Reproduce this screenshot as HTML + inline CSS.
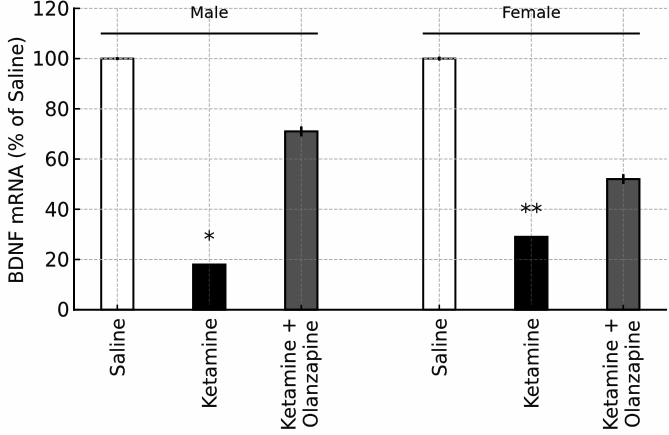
<!DOCTYPE html>
<html>
<head>
<meta charset="utf-8">
<title>BDNF mRNA chart</title>
<style>
html,body{margin:0;padding:0;background:#fefefe;}
body{width:669px;height:435px;overflow:hidden;}
svg{display:block;filter:blur(0.35px);}
text{font-family:"DejaVu Sans","Liberation Sans",sans-serif;fill:#0a0a0a;stroke:#0a0a0a;stroke-width:0.15px;}
</style>
</head>
<body>
<svg id="chart" width="669" height="435" viewBox="0 0 669 435" xmlns="http://www.w3.org/2000/svg">
<text transform="translate(23,160) rotate(-90)" text-anchor="middle" font-size="19.2">BDNF mRNA (% of Saline)</text>
</svg>
<script>
var positions = [0, 1, 2, 3.5, 4.5, 5.5];
var categories = [["Saline"], ["Ketamine"], ["Ketamine +", "Olanzapine"], ["Saline"], ["Ketamine"], ["Ketamine +", "Olanzapine"]];
var values = [100, 18, 71, 100, 29, 52];
var errors = [0.6, 0, 2, 0.8, 0, 2];
var fills = ["#ffffff", "#000000", "#505050", "#ffffff", "#000000", "#505050"];
var significance = ["", "*", "", "", "**", ""];
var yTicks = [0, 20, 40, 60, 80, 100, 120];
var groupNames = ["Male", "Female"];
var groupStart = [-0.18, 3.32];
var groupEnd = [2.18, 5.68];
var groupLineValue = 110;
var barWidth = 0.35;

var svg = document.getElementById('chart');
var NS = 'http://www.w3.org/2000/svg';
function xs(p) { return 117.3 + 92 * p; }
function ys(v) { return 309.7 - 2.511 * v; }
function mk(tag, attrs, parent) {
  var el = document.createElementNS(NS, tag);
  for (var k in attrs) { el.setAttribute(k, attrs[k]); }
  (parent || svg).appendChild(el);
  return el;
}
var axisLeft = 74, axisRight = 667;

/* bars */
positions.forEach(function (p, i) {
  var w = barWidth * 92;
  var bar = mk('rect', { x: xs(p) - w / 2, y: ys(values[i]), width: w, height: ys(0) - ys(values[i]), fill: fills[i], stroke: '#000', 'stroke-width': 2 });
  
  
});

/* grid */
yTicks.forEach(function (t) {
  if (t === 0) return;
  var g = mk('line', { x1: axisLeft, x2: axisRight, y1: ys(t), y2: ys(t), stroke: '#adadad', 'stroke-width': 1, 'stroke-dasharray': '3.5 1.5' });
  
  
});
positions.forEach(function (p) {
  var g = mk('line', { x1: xs(p), x2: xs(p), y1: ys(120), y2: ys(0), stroke: '#adadad', 'stroke-width': 1, 'stroke-dasharray': '3.5 1.5' });
  
  
});

/* tint that mutes the grid where it crosses a dark bar */
positions.forEach(function (p, i) {
  if (fills[i] === '#ffffff') return;
  var w = barWidth * 92;
  var tint = mk('rect', { x: xs(p) - w / 2, y: ys(values[i]), width: w, height: ys(0) - ys(values[i]), fill: fills[i], 'fill-opacity': 0.72, stroke: '#000', 'stroke-width': 2 });
  
  
});

/* error bars */
positions.forEach(function (p, i) {
  if (!errors[i]) return;
  var e = mk('line', { x1: xs(p), x2: xs(p), y1: ys(values[i] + errors[i]), y2: ys(values[i] - errors[i]), stroke: '#000', 'stroke-width': 2.6 });
  
  
});

/* axes */
var spineL = mk('line', { x1: axisLeft, x2: axisLeft, y1: ys(120) - 1, y2: ys(0) + 1, stroke: '#000', 'stroke-width': 2 });


var spineB = mk('line', { x1: axisLeft - 1, x2: axisRight, y1: ys(0), y2: ys(0), stroke: '#000', 'stroke-width': 2 });



yTicks.forEach(function (t) {
  var tk = mk('line', { x1: axisLeft, x2: axisLeft + 6, y1: ys(t), y2: ys(t), stroke: '#000', 'stroke-width': 1.6 });
  
  
  var lb = mk('text', { x: 69.5, y: ys(t) + 7, 'text-anchor': 'end', 'font-size': 19.6 });
  lb.textContent = t;
  
  
});

positions.forEach(function (p, i) {
  var tk = mk('line', { x1: xs(p), x2: xs(p), y1: ys(0), y2: ys(0) - 5, stroke: '#000', 'stroke-width': 1.6 });
  
  
  var lines = categories[i];
  lines.forEach(function (s, j) {
    var bx = lines.length > 1 ? xs(p) + 5 + (j - 0.5) * 22 : xs(p) + 7;
    var lb = mk('text', { transform: 'translate(' + bx + ',374) rotate(-90)', 'text-anchor': 'middle', 'font-size': 19.2 });
    if (lines.length === 1) {
      lb.setAttribute('text-anchor', 'end');
      lb.setAttribute('transform', 'translate(' + bx + ',318) rotate(-90)');
    }
    lb.textContent = s;
    
    
  });
});

/* significance */
positions.forEach(function (p, i) {
  if (!significance[i]) return;
  var s = mk('text', { x: xs(p), y: ys(values[i]) - 17.5, 'text-anchor': 'middle', 'font-size': 22 });
  s.textContent = significance[i];
  
  
});

/* group brackets */
groupNames.forEach(function (n, i) {
  var l = mk('line', { x1: xs(groupStart[i]), x2: xs(groupEnd[i]), y1: ys(groupLineValue), y2: ys(groupLineValue), stroke: '#000', 'stroke-width': 2 });
  
  
  var t = mk('text', { x: (xs(groupStart[i]) + xs(groupEnd[i])) / 2, y: 18, 'text-anchor': 'middle', 'font-size': 16.3 });
  t.textContent = n;
  
  
});
</script>
</body>
</html>
